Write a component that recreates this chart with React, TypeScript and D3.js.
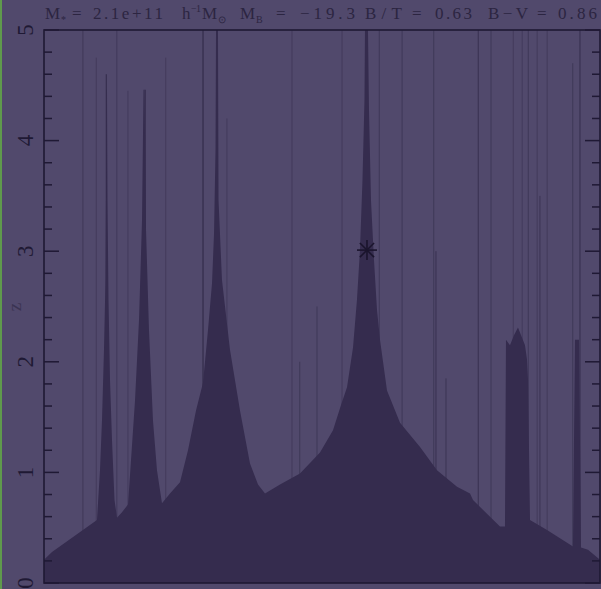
import React from "react";
import * as d3 from "d3";

// Main-branch silhouette (x position along tree, redshift of top edge)
const profileX = [0, 1.44, 9.53, 10.07, 10.43, 10.79, 11.06, 11.15, 11.24, 11.33, 11.42, 11.6, 11.87, 12.23, 12.68, 13.13,
  14.03, 15.11, 15.65, 16.37, 17.09, 17.63, 17.9, 18.08, 18.35, 18.88, 19.6, 20.32, 21.22,
  22.66, 24.46, 25.9, 27.34, 28.6, 29.5, 30.22, 30.58, 30.85, 30.94, 31.29, 31.39, 32.01, 33.45, 35.25, 37.05, 38.49, 39.75,
  42.45, 46.04, 49.64, 51.98, 53.42, 54.5, 55.58, 56.29, 56.83, 57.28, 57.64, 57.73, 58.27, 58.45, 58.81, 59.35, 59.89, 60.43,
  61.69, 64.03, 67.63, 70.68, 74.28, 76.62, 77.16, 82.01, 82.91,
  83.09, 83.81, 84.53, 85.25, 86.51, 86.87, 87.05, 87.41, 90.47, 95.14, 95.5, 96.22, 96.58, 97.84, 100];
const profileZ = [0.21, 0.28, 0.57, 1.02, 1.47, 2.11, 2.74, 3.46, 4.46, 4.46, 3.46, 2.56, 1.84, 1.29, 0.75, 0.59,
  0.64, 0.71, 1.11, 1.65, 2.38, 3.28, 4.46, 4.46, 3.19, 2.29, 1.47, 1.02, 0.72,
  0.81, 0.91, 1.2, 1.56, 1.81, 2.29, 2.71, 3.16, 3.92, 5.0, 5.0, 3.46, 2.74, 2.11, 1.56, 1.08, 0.89, 0.81,
  0.89, 0.99, 1.18, 1.38, 1.61, 1.77, 2.13, 2.56, 3.01, 3.64, 4.37, 5.0, 5.0, 4.28, 3.46, 2.92, 2.47, 2.2,
  1.74, 1.45, 1.23, 1.02, 0.87, 0.81, 0.75, 0.51, 0.51,
  2.2, 2.15, 2.24, 2.31, 2.15, 2.02, 1.84, 0.57, 0.48, 0.33, 2.2, 2.2, 0.32, 0.3, 0.21];

// Thin progenitor branches
const branchX = [7.0, 9.4, 11.2, 13.1, 15.1, 18.2, 21.9, 28.6, 31.1, 32.9, 44.6, 46.0, 49.1, 53.6, 57.9, 60.3, 64.4,
  70.1, 70.5, 72.3, 78.1, 80.4, 84.4, 86.0, 87.1, 88.7, 89.2, 90.5, 95.1, 96.4];
const branchZ = [5, 4.75, 4.6, 5, 4.45, 4.46, 4.75, 5, 5, 4.2, 5, 2.0, 2.5, 5, 5, 5, 5,
  5, 3.0, 1.85, 5, 5, 5, 5, 5, 5, 3.5, 5, 4.7, 5];
const branchWeight = [0.4, 0.3, 0.8, 0.35, 0.3, 0.8, 0.3, 0.9, 0.9, 0.3, 0.3, 0.4, 0.4, 0.3, 0.9, 0.4, 0.4,
  0.4, 0.6, 0.5, 0.6, 0.4, 0.3, 0.3, 0.4, 0.3, 0.5, 0.3, 0.4, 0.7];

// Galaxy marker
const markerX = [58.09];
const markerZ = [3.01];

const yMajor = [0, 1, 2, 3, 4, 5];
const yMinor = d3.range(0, 5.01, 0.2);

// Title pieces: text, role
const titleText = ["M", "*", "=", "2.1e+11", "h", "−1", "M", "⊙", "M", "B", "=", "−19.3", "B/T", "=", "0.63", "B−V", "=", "0.86"];
const titleRole = ["n", "sub", "n", "n", "n", "sup", "n", "sub", "n", "sub", "n", "n", "n", "n", "n", "n", "n", "n"];

const W = 601, H = 589;
const L = 44, R = 600, T = 30, B = 583;
const BG = "#51496c";
const FILL = "#352c4e";
const INK = "#1f1934";
// layout of title pieces (start x, width)
const titleLayout: [number, number][] = [[45, 13], [61, 6], [72, 10], [93, 70], [182, 8], [191, 10], [202, 14], [218, 8],
  [240, 14], [256, 7], [276, 10], [300, 55], [365, 37], [412, 10], [435, 37], [488, 40], [537, 10], [558, 39]];

export default function App() {
  const x = d3.scaleLinear().domain([0, 100]).range([L, R]);
  const y = d3.scaleLinear().domain([0, 5]).range([B, T]);
  const op = d3.scaleLinear().domain([0, 1]).range([0.1, 0.85]);
  const pts: [number, number][] = profileX.map((v, i) => [v, profileZ[i]]);
  const area = d3.area<[number, number]>().x(d => x(d[0])).y0(y(0)).y1(d => y(d[1]));
  const mx = x(markerX[0]), my = y(markerZ[0]);
  const arm = 10;
  return (
    <svg width={W} height={H} style={{ position: "absolute", left: 0, top: 0, display: "block" }}>
      <rect x={0} y={0} width={W} height={H} fill={BG} />
      <rect x={0} y={0} width={2} height={H} fill="#5f9a4c" />
      {branchX.map((bx, i) => (
        <line key={"b" + i} x1={x(bx)} x2={x(bx)} y1={y(0)} y2={y(branchZ[i])}
          stroke="#241d3a" strokeWidth={1} strokeOpacity={op(branchWeight[i])} />
      ))}
      <path d={area(pts) || ""} fill={FILL} />
      {[0, 45, 90, 135].map(a => {
        const r = (a * Math.PI) / 180;
        return <line key={"m" + a} x1={mx - arm * Math.cos(r)} y1={my - arm * Math.sin(r)}
          x2={mx + arm * Math.cos(r)} y2={my + arm * Math.sin(r)} stroke="#1a142c" strokeWidth={1.6} />;
      })}
      <rect x={L} y={T} width={R - L} height={B - T} fill="none" stroke={INK} strokeWidth={1.6} />
      {yMinor.map((v, i) => {
        const major = Math.abs(v - Math.round(v)) < 1e-6;
        const len = major ? 15 : 8;
        return (
          <g key={"t" + i}>
            <line x1={L} x2={L + len} y1={y(v)} y2={y(v)} stroke={INK} strokeWidth={1.5} />
            <line x1={R} x2={R - len} y1={y(v)} y2={y(v)} stroke={INK} strokeWidth={1.5} />
          </g>
        );
      })}
      {yMajor.map(v => (
        <text key={"l" + v} transform={`translate(33,${y(v)}) rotate(-90)`} textAnchor="middle"
          fontFamily="Liberation Serif, serif" fontSize={23} fill={INK}>{v}</text>
      ))}
      <text transform={`translate(21,307) rotate(-90)`} textAnchor="middle" fontFamily="Liberation Serif, serif"
        fontSize={19} fill="#3a3352">z</text>
      <g fontFamily="Liberation Serif, serif" fill="#2c2541">
        {titleText.map((t, i) => {
          const [tx, tw] = titleLayout[i];
          const role = titleRole[i];
          const fs = role === "n" ? 17 : 10;
          const ty = role === "sub" ? 23 : role === "sup" ? 12 : 19;
          return (
            <text key={"tt" + i} x={tx} y={ty} fontSize={fs}
              {...(t.length > 1 ? { textLength: tw, lengthAdjust: "spacing" } : {})}>{t}</text>
          );
        })}
      </g>
    </svg>
  );
}
